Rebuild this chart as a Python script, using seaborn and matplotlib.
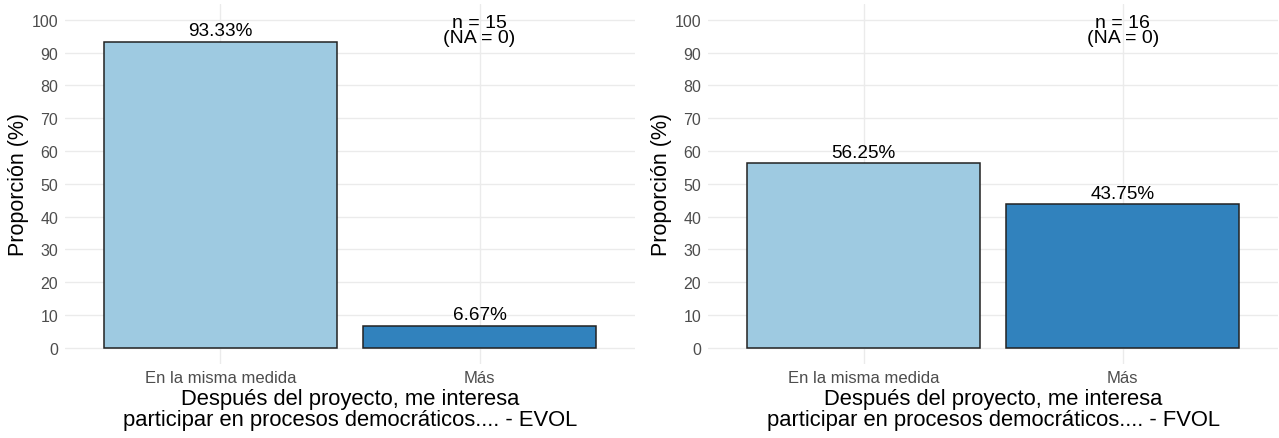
import pandas as pd
import matplotlib
matplotlib.use("Agg")
import matplotlib.pyplot as plt
import seaborn as sns

# Data
categories = ["En la misma medida", "Más"]
evol_values = [93.33, 6.67]
fvol_values = [56.25, 43.75]
panel_names = ["EVOL", "FVOL"]
n_counts = [15, 16]
na_counts = [0, 0]
bar_colors = ["#9ecae1", "#3182bd"]

sns.set_theme(style="whitegrid")
plt.rcParams["font.family"] = ["Liberation Sans", "DejaVu Sans"]

fig = plt.figure(figsize=(12.79, 4.39), dpi=100)
axes = [fig.add_axes([0.0508, 0.1686, 0.4457, 0.821]),
        fig.add_axes([0.5536, 0.1686, 0.4457, 0.821])]

for ax, values, name, n, na in zip(axes, [evol_values, fvol_values], panel_names, n_counts, na_counts):
    df = pd.DataFrame({"cat": categories, "val": values})
    sns.barplot(data=df, x="cat", y="val", hue="cat", palette=bar_colors, saturation=1,
                width=0.9, edgecolor="#222222", linewidth=1.1, legend=False, ax=ax, zorder=2)
    ax.set_xlim(-0.6, 1.6)
    ax.set_ylim(-5, 105)
    ax.set_yticks(range(0, 101, 10))
    for s in ax.spines.values():
        s.set_visible(False)
    ax.set_facecolor("white")
    ax.grid(True, color="#ebebeb", linewidth=1.0, zorder=0)
    ax.set_axisbelow(True)
    ax.tick_params(axis="y", length=0, labelsize=11.5, labelcolor="#4d4d4d", pad=5)
    ax.tick_params(axis="x", length=0, labelsize=12, labelcolor="#4d4d4d", pad=4.5)
    ax.set_ylabel("Proporción (%)", fontsize=15.5, color="black", labelpad=1.5)
    ax.set_xlabel("Después del proyecto, me interesa\nparticipar en procesos democráticos.... - " + name,
                  fontsize=15.8, color="black", labelpad=2, linespacing=1.0)
    for i, v in enumerate(values):
        ax.text(i, v + 0.8, f"{v:.2f}%", ha="center", va="bottom", fontsize=13.6, color="black")
    ax.text(1, 99.3, f"n = {n}", ha="center", va="center", fontsize=14, color="black")
    ax.text(1, 94.6, f"(NA = {na})", ha="center", va="center", fontsize=14, color="black")

fig.savefig("out.png", dpi=100)
